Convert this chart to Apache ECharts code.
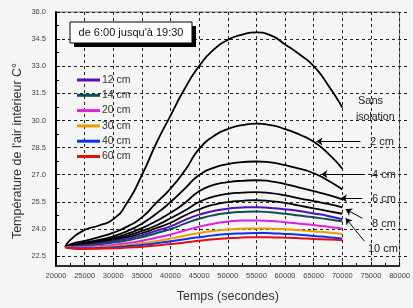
<!DOCTYPE html>
<html>
<head>
<meta charset="utf-8">
<script src="https://cdn.jsdelivr.net/npm/echarts@6/dist/echarts.min.js"></script>
<style>
html, body { margin: 0; padding: 0; background: #f5f5f5; }
#chart { width: 413px; height: 308px; }
</style>
</head>
<body>
<div id="chart"></div>
<script>
// temps (s)
var temps = [21600, 22500, 25000, 27500, 30000, 32500, 35000, 37500, 40000, 42500, 45000,
             47500, 50000, 52500, 55000, 57500, 60000, 62500, 65000, 67500, 70000];

var sansIsolation = [22.95, 23.35, 23.9, 24.15, 24.5, 25.45, 26.95, 28.7, 30.25, 31.75, 33.0,
                     33.9, 34.45, 34.75, 34.87, 34.7, 34.2, 33.65, 33.0, 31.95, 30.7];
var iso2 = [22.95, 23.1, 23.3, 23.5, 23.75, 24.1, 24.6, 25.4, 26.2, 27.2, 28.4,
            29.1, 29.5, 29.72, 29.8, 29.72, 29.5, 29.2, 28.8, 28.15, 27.3];
var iso4 = [22.95, 23.05, 23.2, 23.35, 23.55, 23.85, 24.25, 24.8, 25.45, 26.2, 26.95,
            27.35, 27.55, 27.67, 27.7, 27.65, 27.5, 27.3, 27.05, 26.65, 26.15];
var iso6 = [22.95, 23.0, 23.15, 23.28, 23.45, 23.7, 24.0, 24.4, 24.85, 25.4, 26.05,
            26.4, 26.55, 26.63, 26.66, 26.6, 26.45, 26.25, 26.05, 25.85, 25.6];
var iso8 = [22.95, 23.0, 23.1, 23.22, 23.38, 23.58, 23.85, 24.15, 24.55, 24.98, 25.45,
            25.75, 25.9, 25.97, 26.0, 25.95, 25.82, 25.65, 25.5, 25.35, 25.15];
var iso10 = [22.95, 22.98, 23.08, 23.18, 23.32, 23.5, 23.72, 24.0, 24.3, 24.7, 25.05,
             25.3, 25.45, 25.52, 25.55, 25.5, 25.4, 25.25, 25.1, 24.95, 24.8];
var iso12 = [22.95, 22.97, 23.05, 23.15, 23.27, 23.42, 23.6, 23.85, 24.1, 24.45, 24.75,
             24.95, 25.08, 25.15, 25.16, 25.12, 25.05, 24.95, 24.82, 24.68, 24.5];
var iso14 = [22.95, 22.96, 23.02, 23.1, 23.2, 23.33, 23.5, 23.72, 23.95, 24.25, 24.52,
             24.72, 24.84, 24.9, 24.92, 24.88, 24.8, 24.7, 24.6, 24.5, 24.38];
var iso20 = [22.95, 22.93, 22.95, 23.0, 23.07, 23.17, 23.3, 23.47, 23.65, 23.87, 24.08,
             24.25, 24.36, 24.42, 24.43, 24.4, 24.33, 24.25, 24.17, 24.08, 23.98];
var iso30 = [22.95, 22.92, 22.92, 22.95, 23.0, 23.07, 23.16, 23.28, 23.42, 23.58, 23.73,
             23.85, 23.93, 23.97, 23.98, 23.97, 23.94, 23.88, 23.82, 23.76, 23.68];
var iso40 = [22.95, 22.9, 22.88, 22.9, 22.94, 23.0, 23.07, 23.16, 23.27, 23.39, 23.5,
             23.6, 23.67, 23.71, 23.73, 23.72, 23.68, 23.63, 23.57, 23.5, 23.43];
var iso60 = [22.95, 22.88, 22.85, 22.86, 22.88, 22.92, 22.97, 23.04, 23.12, 23.21, 23.3,
             23.38, 23.44, 23.48, 23.5, 23.49, 23.47, 23.44, 23.4, 23.37, 23.33];

var blackNames = ['Sans isolation', '2 cm', '4 cm', '6 cm', '8 cm', '10 cm'];
var blackValues = [sansIsolation, iso2, iso4, iso6, iso8, iso10];
var colorNames = ['12 cm', '14 cm', '20 cm', '30 cm', '40 cm', '60 cm'];
var colorValues = [iso12, iso14, iso20, iso30, iso40, iso60];
var colors = ['#5010c0', '#0e4f52', '#e020e0', '#e8a000', '#1030f0', '#e01010'];

// fleches des etiquettes : [x,y] queue, [x,y] pointe
var arrows = [
    [[73160, 28.81], [65470, 28.81]],
    [[73680, 26.99], [66330, 26.99]],
    [[73500, 25.66], [69740, 25.66]],
    [[73500, 24.55], [70600, 25.05]],
    [[73850, 23.28], [70600, 24.55]]
];
// textes a droite : [texte, x, y, taille]
var notes = [
    ['Sans', 358, 101, 11],
    ['isolation', 356, 117, 10.5],
    ['2 cm', 370, 142, 11],
    ['4 cm', 372, 175, 11],
    ['6 cm', 372, 199, 11],
    ['8 cm', 372, 224, 11],
    ['10 cm', 368, 249, 11]
];

var font = 'Liberation Sans, Arial, sans-serif';

function pairs(vals) {
    return temps.map(function (t, i) { return [t, vals[i]]; });
}

var series = [];
blackNames.forEach(function (n, i) {
    series.push({
        name: n, type: 'line', smooth: 0.6, symbol: 'none',
        xAxisIndex: 0, yAxisIndex: 0,
        lineStyle: { color: '#000', width: 1.8 },
        itemStyle: { color: '#000' },
        data: pairs(blackValues[i])
    });
});
colorNames.forEach(function (n, i) {
    series.push({
        name: n, type: 'line', smooth: 0.6, symbol: 'none',
        xAxisIndex: 0, yAxisIndex: 0,
        lineStyle: { color: colors[i], width: 2 },
        itemStyle: { color: colors[i] },
        data: pairs(colorValues[i])
    });
});
// fleches
series.push({
    name: 'annot', type: 'line', data: [], xAxisIndex: 0, yAxisIndex: 0,
    markLine: {
        silent: true, animation: false,
        symbol: ['none', 'arrow'], symbolSize: 6,
        lineStyle: { color: '#000', width: 1, type: 'solid' },
        label: { show: false },
        data: arrows.map(function (a) {
            return [{ coord: a[0] }, { coord: a[1] }];
        })
    }
});

var graphics = [
    { type: 'rect', shape: { x: 74, y: 26, width: 122, height: 21 }, style: { fill: '#000' }, z: 100 },
    { type: 'rect', shape: { x: 70, y: 22, width: 122, height: 21 }, style: { fill: '#fff', stroke: '#000', lineWidth: 1 }, z: 101 },
    { type: 'text', x: 131, y: 33, z: 102, style: { text: "de 6:00 jusqu'à 19:30", fill: '#111', font: '11px ' + font, textAlign: 'center', textVerticalAlign: 'middle' } }
];
notes.forEach(function (n) {
    graphics.push({
        type: 'text', x: n[1], y: n[2], z: 102,
        style: { text: n[0], fill: '#222', font: n[3] + 'px ' + font, textAlign: 'left', textVerticalAlign: 'middle' }
    });
});

var chart = echarts.init(document.getElementById('chart'));
chart.setOption({
    animation: false,
    backgroundColor: '#f5f5f5',
    grid: [
        { left: 56, right: 6, top: 12, bottom: 41, show: true, borderColor: '#777', borderWidth: 1, backgroundColor: 'transparent' },
        { left: 56, right: 6, top: 12, bottom: 52 }
    ],
    legend: {
        data: colorNames, orient: 'vertical', left: 77, top: 74, padding: 0,
        icon: 'rect', itemWidth: 23, itemHeight: 3, itemGap: 3.3,
        textStyle: { fontSize: 10.5, lineHeight: 12, color: '#333', fontFamily: font, padding: [0, 0, 0, -3] }
    },
    xAxis: [{
        gridIndex: 0, type: 'value', min: 20000, max: 80000, interval: 5000,
        name: 'Temps (secondes)', nameLocation: 'middle', nameGap: 24,
        nameTextStyle: { fontSize: 12.5, color: '#333', fontFamily: font },
        axisLine: { lineStyle: { color: '#000', width: 1.5 } },
        axisTick: { inside: true, length: 4, lineStyle: { color: '#000' } },
        minorTick: { show: true, splitNumber: 2, length: 3, lineStyle: { color: '#000' } },
        axisLabel: { fontSize: 7.5, color: '#444', margin: 6, fontFamily: font,
            formatter: function (v) { return String(v); } },
        splitLine: { show: true, lineStyle: { color: '#222', type: [3, 3], width: 1 } }
    }, {
        gridIndex: 1, type: 'value', min: 20000, max: 80000, show: false
    }],
    yAxis: [{
        gridIndex: 0, type: 'value', min: 21.9, max: 36,
        name: "Température de l'air intérieur C°", nameLocation: 'middle', nameGap: 32,
        nameTextStyle: { fontSize: 12.5, color: '#333', fontFamily: font, padding: [0, 24, 0, 0] },
        axisLine: { show: true, lineStyle: { color: '#000', width: 2 } },
        axisTick: { show: false }, axisLabel: { show: false }, splitLine: { show: false }
    }, {
        gridIndex: 1, type: 'value', min: 22.5, max: 36, interval: 1.5,
        axisLine: { show: false },
        axisTick: { show: true, inside: true, length: 4, lineStyle: { color: '#000' } },
        minorTick: { show: true, splitNumber: 2, length: 3, lineStyle: { color: '#000' } },
        axisLabel: {
            fontSize: 7.5, color: '#444', margin: 10, fontFamily: font,
            formatter: function (v) { return v.toFixed(1); }
        },
        splitLine: { show: true, lineStyle: { color: '#222', type: [3, 3], width: 1 } }
    }],
    graphic: graphics,
    series: series
});
</script>
</body>
</html>
